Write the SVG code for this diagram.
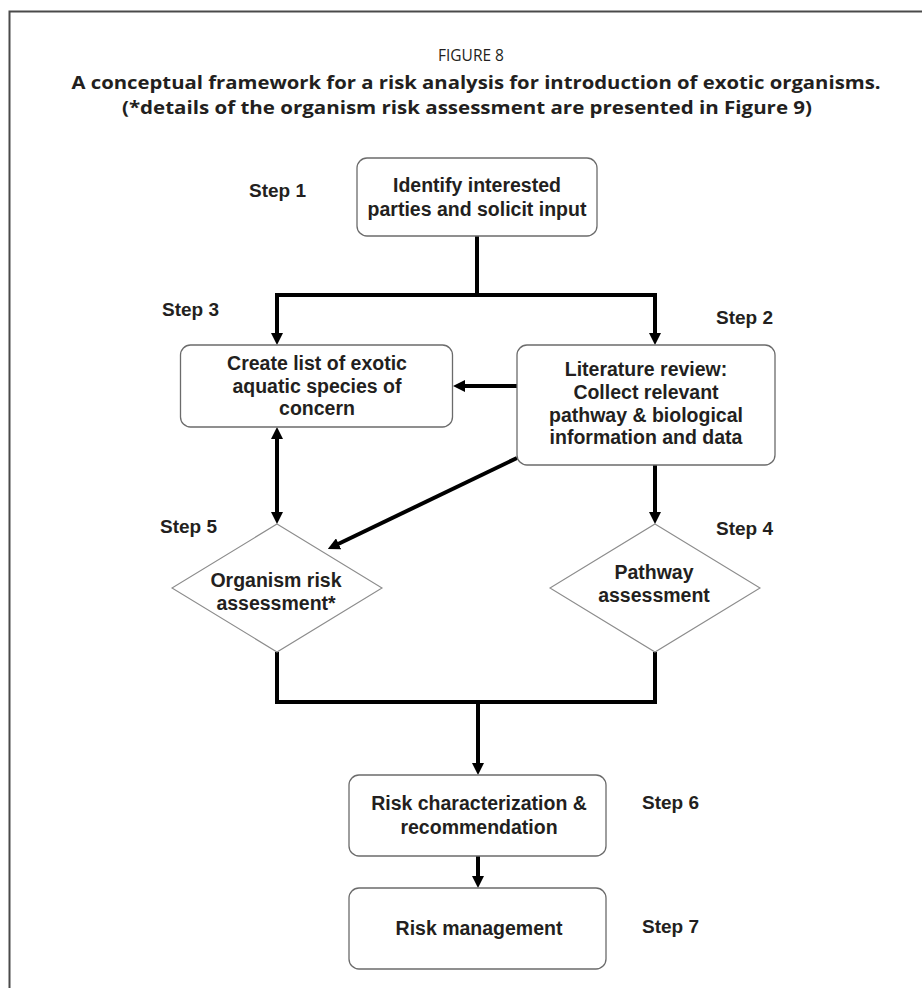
<svg xmlns="http://www.w3.org/2000/svg" width="922" height="988" viewBox="0 0 922 988">
  <style>
    .frame { fill: none; stroke: #4a4a4a; stroke-width: 2; }
    .cap { font-family: "Open Sans", "Noto Sans", sans-serif; fill: #231f20; text-anchor: middle; }
    .capb { font-family: "Open Sans", "Noto Sans", sans-serif; font-weight: bold; font-size: 18px; fill: #231f20; text-anchor: middle; }
    .box { fill: #ffffff; stroke: #6b6b6b; stroke-width: 1.3; }
    .dia { fill: #ffffff; stroke: #8c8c8c; stroke-width: 1.1; }
    .lbl { font-family: "Liberation Sans", Arial, sans-serif; font-weight: bold; font-size: 19.5px; fill: #231f20; text-anchor: middle; }
    .step { font-family: "Liberation Sans", Arial, sans-serif; font-weight: bold; font-size: 19px; fill: #231f20; }
    .conn { fill: none; stroke: #000000; stroke-width: 4; stroke-linejoin: miter; }
  </style>
  <defs>
    <marker id="arrow" viewBox="0 0 12 12" refX="4" refY="6" markerWidth="12" markerHeight="12" markerUnits="userSpaceOnUse" orient="auto-start-reverse">
      <path d="M0,0 L12,6 L0,12 z" fill="#000000"/>
    </marker>
  </defs>

  <rect width="922" height="988" fill="#ffffff"/>

  <!-- page frame -->
  <path class="frame" d="M9.5,988 V11.5 H922"/>

  <!-- caption -->
  <g id="caption">
    <text class="cap" x="471" y="61" font-size="15.5">FIGURE 8</text>
    <text class="capb" x="476" y="89" textLength="809" lengthAdjust="spacingAndGlyphs">A conceptual framework for a risk analysis for introduction of exotic organisms.</text>
    <text class="capb" x="467" y="114" textLength="690" lengthAdjust="spacingAndGlyphs">(*details of the organism risk assessment are presented in Figure 9)</text>
  </g>

  <!-- connectors -->
  <g id="connectors">
    <path class="conn" d="M477,236 V295"/>
    <path class="conn" d="M277,337 V295 H655 V337" marker-start="url(#arrow)" marker-end="url(#arrow)"/>
    <path class="conn" d="M517,386 H461" marker-end="url(#arrow)"/>
    <path class="conn" d="M277,435 V516" marker-start="url(#arrow)" marker-end="url(#arrow)"/>
    <path class="conn" d="M655,465 V516" marker-end="url(#arrow)"/>
    <path class="conn" d="M517,458 L335,545.5" marker-end="url(#arrow)"/>
    <path class="conn" d="M277,652 V702 H655 V652"/>
    <path class="conn" d="M478,702 V767" marker-end="url(#arrow)"/>
    <path class="conn" d="M478,856 V880" marker-end="url(#arrow)"/>
  </g>

  <!-- Step 1 -->
  <g id="step1">
    <rect class="box" x="357" y="158" width="240" height="78" rx="10"/>
    <text class="lbl" x="477" y="192">Identify interested</text>
    <text class="lbl" x="477" y="216">parties and solicit input</text>
    <text class="step" x="249" y="197">Step 1</text>
  </g>

  <!-- Step 3 -->
  <g id="step3">
    <rect class="box" x="180.5" y="345" width="272" height="82" rx="10"/>
    <text class="lbl" x="317" y="370">Create list of exotic</text>
    <text class="lbl" x="317" y="393">aquatic species of</text>
    <text class="lbl" x="317" y="415">concern</text>
    <text class="step" x="162" y="316">Step 3</text>
  </g>

  <!-- Step 2 -->
  <g id="step2">
    <rect class="box" x="517" y="345" width="258" height="120" rx="10"/>
    <text class="lbl" x="646" y="376">Literature review:</text>
    <text class="lbl" x="646" y="399">Collect relevant</text>
    <text class="lbl" x="646" y="422">pathway &amp; biological</text>
    <text class="lbl" x="646" y="444">information and data</text>
    <text class="step" x="716" y="324">Step 2</text>
  </g>

  <!-- Step 5 -->
  <g id="step5">
    <polygon class="dia" points="277,524 382,588 277,652 172,588"/>
    <text class="lbl" x="276" y="587">Organism risk</text>
    <text class="lbl" x="276" y="610">assessment*</text>
    <text class="step" x="160" y="533">Step 5</text>
  </g>

  <!-- Step 4 -->
  <g id="step4">
    <polygon class="dia" points="655,524 760,588 655,652 550,588"/>
    <text class="lbl" x="654" y="579">Pathway</text>
    <text class="lbl" x="654" y="602">assessment</text>
    <text class="step" x="716" y="535">Step 4</text>
  </g>

  <!-- Step 6 -->
  <g id="step6">
    <rect class="box" x="349" y="775" width="257" height="81" rx="10"/>
    <text class="lbl" x="479" y="810">Risk characterization &amp;</text>
    <text class="lbl" x="479" y="834">recommendation</text>
    <text class="step" x="642" y="809">Step 6</text>
  </g>

  <!-- Step 7 -->
  <g id="step7">
    <rect class="box" x="349" y="888" width="257" height="81" rx="10"/>
    <text class="lbl" x="479" y="935">Risk management</text>
    <text class="step" x="642" y="933">Step 7</text>
  </g>
</svg>
